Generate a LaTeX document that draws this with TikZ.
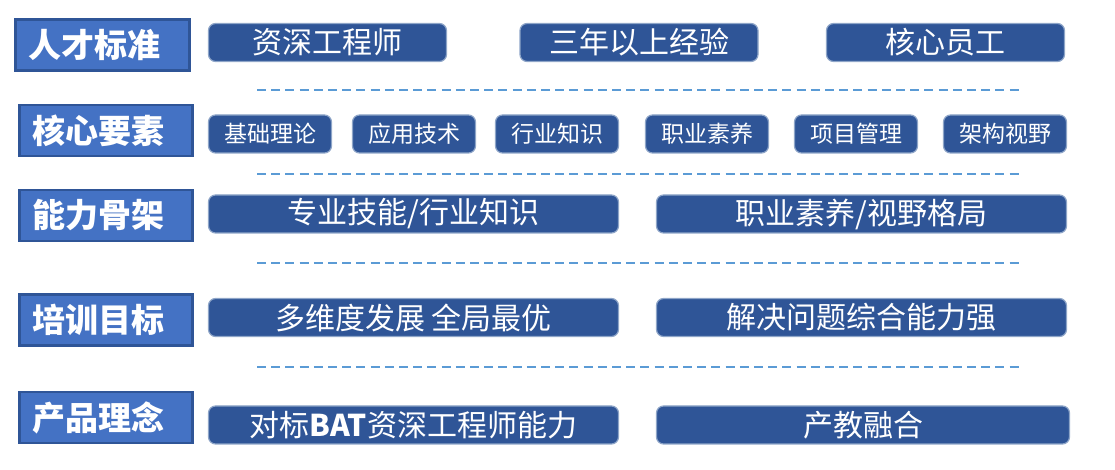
\documentclass[tikz,border=0pt]{standalone}
\usepackage{fontspec}
\setmainfont{Noto Sans CJK SC}
\usepackage{xcolor}
\usepackage{tikz}
\usetikzlibrary{positioning}
\definecolor{tagblue}{HTML}{4472C4}
\definecolor{tagedge}{HTML}{2F5597}
\definecolor{itemblue}{HTML}{2F5597}
\definecolor{itemedge}{HTML}{8EA5C8}
\definecolor{sepblue}{HTML}{5B9BD5}

\begin{document}
\begin{tikzpicture}[x=0.5pt, y=-0.5pt,
    tag/.style={rectangle, draw=tagedge, fill=tagblue, line width=1.3pt, text=white,
        font=\bfseries\fontsize{16.5pt}{19pt}\selectfont, minimum height=25.5pt,
        inner xsep=6.5pt, inner ysep=0pt, text width=73.5pt, align=left},
    item/.style={rectangle, draw=itemedge, fill=itemblue, rounded corners=3.5pt, line width=0.6pt,
        text=white, font=\fontsize{15pt}{18pt}\selectfont, minimum width=119pt,
        minimum height=19pt, inner sep=0pt},
    sitem/.style={item, font=\fontsize{11.5pt}{14pt}\selectfont, minimum width=61.5pt},
    witem/.style={item, minimum width=205pt},
    sep/.style={draw=sepblue, line width=0.75pt, dash pattern=on 4.5pt off 2.6pt}
]
\useasboundingbox (0,0) rectangle (1115,470);

% row labels
\node[tag, minimum width=86.5pt, text width=74pt] (tStd) at (102.5,45) {人才标准};
\node[tag] (tCore) at (106,130.5) {核心要素};
\node[tag] (tFrame) at (106,215.5) {能力骨架};
\node[tag] (tGoal) at (106,320) {培训目标};
\node[tag] (tIdea) at (106,417.5) {产品理念};

% talent standard
\node[item] (std1) at (327.5,42.5) {资深工程师};
\node[item] (std2) at (639,42.5) {三年以上经验};
\node[item] (std3) at (945.5,42.5) {核心员工};

% core elements
\node[sitem] (core1) at (270,134) {基础理论};
\node[sitem] (core2) at (414,134) {应用技术};
\node[sitem] (core3) at (557,134) {行业知识};
\node[sitem] (core4) at (707,134) {职业素养};
\node[sitem] (core5) at (856,134) {项目管理};
\node[sitem] (core6) at (1005,134) {架构视野};

% ability frame
\node[witem] (frame1) at (413.5,214) {专业技能/行业知识};
\node[witem] (frame2) at (861.5,214) {职业素养/视野格局};

% training goals
\node[witem] (goal1) at (413.5,317.5) {多维度发展 全局最优};
\node[witem] (goal2) at (861.5,317.5) {解决问题综合能力强};

% product idea
\node[witem] (idea1) at (413.5,425) {对标\textbf{BAT}资深工程师能力};
\node[witem, minimum width=206.5pt] (idea2) at (863,425) {产教融合};

% separators
\foreach \y in {90,174,263,367}
    \draw[sep] (257,\y) -- (1022,\y);
\end{tikzpicture}
\end{document}
